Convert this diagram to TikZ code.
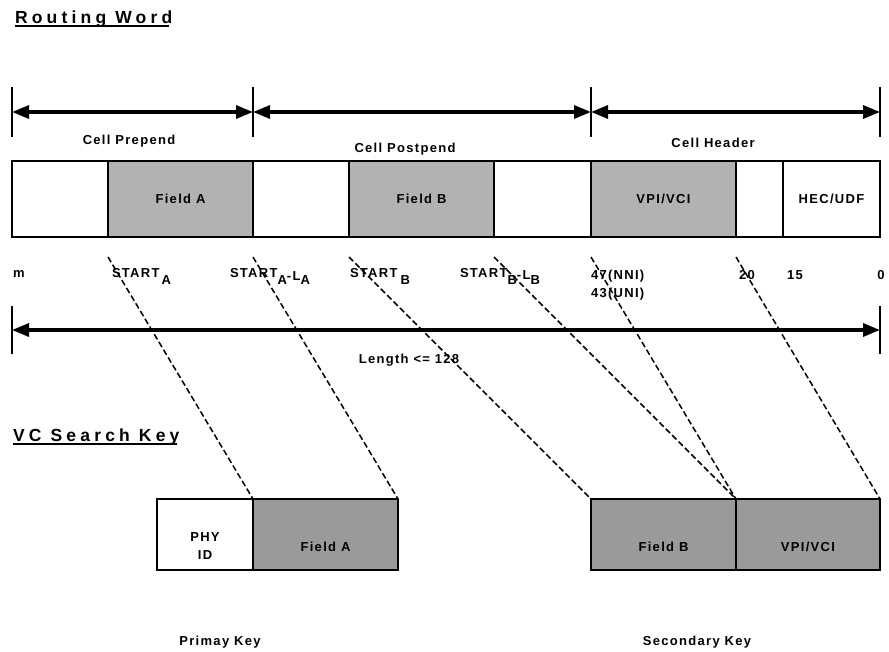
\documentclass[tikz,border=0pt]{standalone}
\usepackage{fontspec}
\setmainfont{Liberation Sans}
\newfontfamily\lblf{Liberation Sans}[LetterSpace=10,UprightFont={* Bold}]
\newfontfamily\ttlf{Liberation Sans}[LetterSpace=24,UprightFont={* Bold}]
\usetikzlibrary{arrows.meta,calc}
\definecolor{grayA}{HTML}{B2B2B2}
\definecolor{grayB}{HTML}{9A9A9A}
\newcommand\lowby[2]{\raisebox{-#1pt}{#2}}
\begin{document}
\begin{tikzpicture}[x=1pt,y=-1pt,
  lbl/.style={font=\lblf\fontsize{13}{18}\selectfont, inner sep=0pt, outer sep=0pt},
  ttl/.style={font=\ttlf\fontsize{17.5}{20}\selectfont, inner sep=0pt, outer sep=0pt, anchor=base west},
  cellbox/.style={draw, line width=1.6pt, anchor=north west, inner sep=0pt, outer sep=0pt,
     font=\lblf\fontsize{13}{18}\selectfont},
  toprow/.style={cellbox, minimum height=76pt},
  botrow/.style={cellbox, minimum height=71pt},
  dimarrow/.style={line width=3.2pt, {Triangle[length=17pt,width=13pt]}-{Triangle[length=17pt,width=13pt]}},
  tick/.style={line width=2pt},
  ul/.style={line width=2.5pt},
  dashline/.style={line width=1.5pt, dash pattern=on 6pt off 3pt}
]
\path[use as bounding box] (0,0) rectangle (889,651);

% Titles
\node[ttl] (t1) at (15,23) {Routing Word};
\draw[ul] ($(t1.base west)+(0,3)$) -- ($(t1.base east)+(-3,3)$);
\node[ttl] (t2) at (13,441) {VC Search Key};
\draw[ul] ($(t2.base west)+(0,3)$) -- ($(t2.base east)+(-3,3)$);

% top dimension arrows
\coordinate (a0) at (12,112);
\coordinate (a1) at (253,112);
\coordinate (a2) at (591,112);
\coordinate (a3) at (880,112);
\foreach \c in {a0,a1,a2,a3}{\draw[tick] ($(\c)+(0,-25)$) -- ($(\c)+(0,25)$);}
\draw[dimarrow] (a0) -- (a1);
\draw[dimarrow] (a1) -- (a2);
\draw[dimarrow] (a2) -- (a3);
\node[lbl, anchor=base] (cp) at (129,144) {Cell Prepend};
\node[lbl, anchor=base] (cq) at (405,152) {Cell Postpend};
\node[lbl, anchor=base] (ch) at (713,147) {Cell Header};

% routing word boxes
\node[toprow, minimum width=96pt] (r1) at (12,161) {};
\node[toprow, minimum width=145pt, fill=grayA] (r2) at (108,161) {Field A};
\node[toprow, minimum width=96pt] (r3) at (253,161) {};
\node[toprow, minimum width=145pt, fill=grayA] (r4) at (349,161) {Field B};
\node[toprow, minimum width=97pt] (r5) at (494,161) {};
\node[toprow, minimum width=145pt, fill=grayA] (r6) at (591,161) {VPI/VCI};
\node[toprow, minimum width=47pt] (r7) at (736,161) {};
\node[toprow, minimum width=97pt] (r8) at (783,161) {HEC/UDF};

% bit position labels
\node[lbl, anchor=base west] (m) at (13,277) {m};
\node[lbl, anchor=base west] (sa) at (112,277) {START\hspace{2pt}\lowby{7.5}{A}};
\node[lbl, anchor=base west] (sal) at (230,277) {START\lowby{7}{A}\lowby{3}{-L}\lowby{7.5}{A}};
\node[lbl, anchor=base west] (sb) at (350,277) {START\hspace{3pt}\lowby{7.5}{B}};
\node[lbl, anchor=base west] (sbl) at (460,277) {START\lowby{7}{B}\lowby{2}{-L}\lowby{7}{B}};
\node[lbl, anchor=base west] (n47) at (591,279) {47(NNI)};
\node[lbl, anchor=base west] (n43) at (591,297) {43(UNI)};
\node[lbl, anchor=base west] (n20) at (739,279) {20};
\node[lbl, anchor=base west] (n15) at (787,279) {15};
\node[lbl, anchor=base] (n0) at (881,279) {0};

% length arrow
\coordinate (l0) at (12,330);
\coordinate (l1) at (880,330);
\draw[tick] ($(l0)+(0,-24)$) -- ($(l0)+(0,24)$);
\draw[tick] ($(l1)+(0,-24)$) -- ($(l1)+(0,24)$);
\draw[dimarrow] (l0) -- (l1);
\node[lbl, anchor=base] (len) at (409,363) {Length <= 128};

% search key boxes
\node[botrow, minimum width=96pt] (b1) at (157,499) {};
\node[botrow, minimum width=145pt, fill=grayB] (b2) at (253,499) {};
\node[botrow, minimum width=145pt, fill=grayB] (b3) at (591,499) {};
\node[botrow, minimum width=144pt, fill=grayB] (b4) at (736,499) {};
\node[lbl, align=center] (phy) at ($(b1.center)+(0,12)$) {PHY\\ID};
\node[lbl] (fa) at ($(b2.center)+(0,12)$) {Field A};
\node[lbl] (fb) at ($(b3.center)+(0,12)$) {Field B};
\node[lbl] (vv) at ($(b4.center)+(0,12)$) {VPI/VCI};

\node[lbl, anchor=base] (pk) at (220,645) {Primay Key};
\node[lbl, anchor=base] (sk) at (697,645) {Secondary Key};

% dashed mapping lines
\coordinate (d1) at (108,257);
\coordinate (d2) at (253,257);
\coordinate (d3) at (349,257);
\coordinate (d4) at (494,257);
\coordinate (d5) at (591,257);
\coordinate (d6) at (736,257);
\draw[dashline] (d1) -- (b2.north west);
\draw[dashline] (d2) -- (b2.north east);
\draw[dashline] (d3) -- (b3.north west);
\draw[dashline] (d4) -- (b3.north east);
\draw[dashline] (d5) -- (b4.north west);
\draw[dashline] (d6) -- (b4.north east);
\end{tikzpicture}
\end{document}
